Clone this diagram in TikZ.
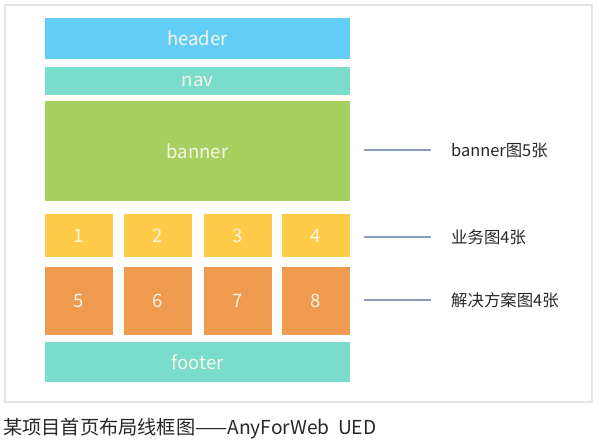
\documentclass[tikz,border=0pt]{standalone}
\usepackage{fontspec}
\setmainfont{Noto Sans CJK SC}
\begin{document}
\begin{tikzpicture}[x=1pt,y=-1pt,
  blk/.style={rectangle,inner sep=0pt,outer sep=0pt,anchor=north west,
    text=boxtext,font=\fontsize{18.5}{18.5}\selectfont},
  lbl/.style={anchor=west,inner sep=0pt,text=labeltext,font=\fontsize{16.4}{16.4}\selectfont},
  conn/.style={draw=linecol,line width=1.4pt}]
\definecolor{cHeader}{RGB}{98,205,245}
\definecolor{cNav}{RGB}{122,220,203}
\definecolor{cBanner}{RGB}{166,209,97}
\definecolor{cBiz}{RGB}{255,204,74}
\definecolor{cSol}{RGB}{238,154,79}
\definecolor{boxtext}{RGB}{246,246,232}
\definecolor{labeltext}{RGB}{40,40,40}
\definecolor{linecol}{RGB}{138,156,192}
\definecolor{framecol}{RGB}{228,228,228}
\useasboundingbox (0,0) rectangle (599,443);
\fill[white] (0,0) rectangle (599,443);
\draw[framecol,line width=1.5pt] (5,5) rectangle (592,402);
% blocks
\node[blk,fill=cHeader,minimum width=305pt,minimum height=41pt] (header) at (45,18) {header};
\node[blk,fill=cNav,minimum width=305pt,minimum height=28pt] (nav) at (45,67) {nav};
\node[blk,fill=cBanner,minimum width=305pt,minimum height=100pt] (banner) at (45,101) {banner};
\node[blk,fill=cBiz,minimum width=68pt,minimum height=43pt] (b1) at (45,214) {1};
\node[blk,fill=cBiz,minimum width=68pt,minimum height=43pt] (b2) at (124,214) {2};
\node[blk,fill=cBiz,minimum width=68pt,minimum height=43pt] (b3) at (203.5,214) {3};
\node[blk,fill=cBiz,minimum width=68pt,minimum height=43pt] (b4) at (282,214) {4};
\node[blk,fill=cSol,minimum width=68pt,minimum height=68pt] (s5) at (45,267) {5};
\node[blk,fill=cSol,minimum width=68pt,minimum height=68pt] (s6) at (124,267) {6};
\node[blk,fill=cSol,minimum width=68pt,minimum height=68pt] (s7) at (203.5,267) {7};
\node[blk,fill=cSol,minimum width=68pt,minimum height=68pt] (s8) at (282,267) {8};
\node[blk,fill=cNav,minimum width=305pt,minimum height=40pt] (footer) at (45,342) {footer};
% labels
\node[lbl] (l1) at (451,150) {banner图5张};
\node[lbl] (l2) at (451,237) {业务图4张};
\node[lbl] (l3) at (451,300) {解决方案图4张};
\coordinate (c1a) at (364,150); \coordinate (c1b) at (431,150);
\coordinate (c2a) at (364,237); \coordinate (c2b) at (431,237);
\coordinate (c3a) at (364,300); \coordinate (c3b) at (431,300);
\draw[conn] (c1a) -- (c1b);
\draw[conn] (c2a) -- (c2b);
\draw[conn] (c3a) -- (c3b);
% caption
\node[anchor=west,inner sep=0pt,text=labeltext,font=\fontsize{19.2}{19.2}\selectfont] (cap) at (3,429) {某项目首页布局线框图——AnyForWeb\ \ UED};
\end{tikzpicture}
\end{document}
